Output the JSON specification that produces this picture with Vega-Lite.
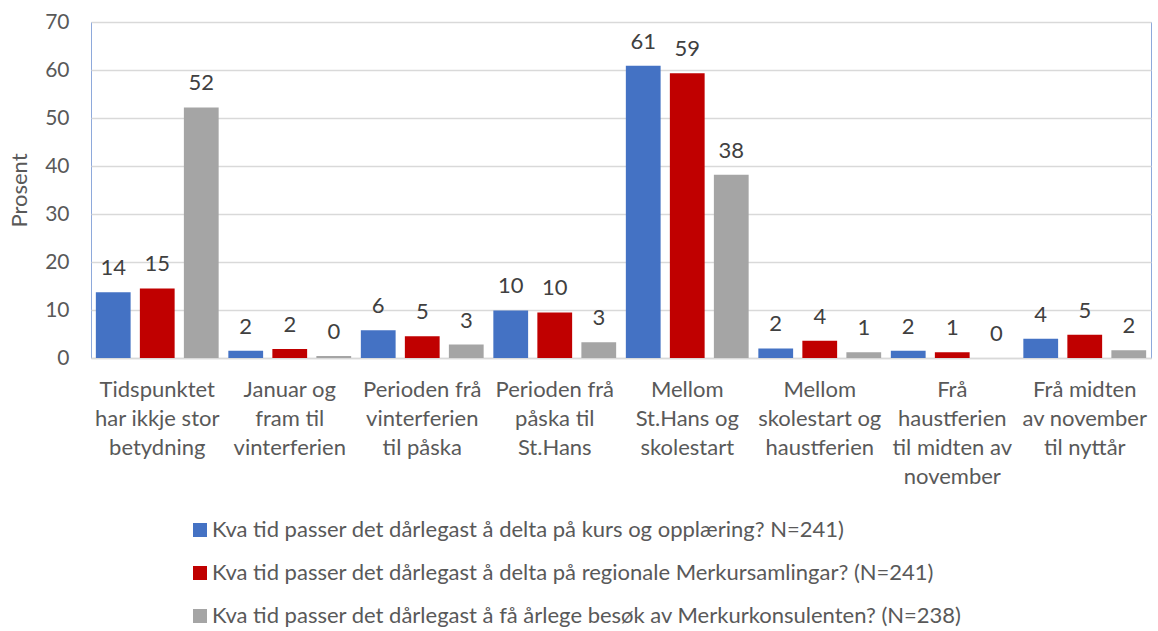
{
  "$schema": "https://vega.github.io/schema/vega-lite/v6.json",
  "width": 1060,
  "height": 336,
  "autosize": {"type": "none"},
  "padding": {"left": 91, "top": 22, "right": 7, "bottom": 273},
  "background": "white",
  "config": {
    "font": "Lato",
    "view": {"stroke": "#8EA9DB", "strokeWidth": 1}
  },
  "data": {
    "values": [
      {"cat": "Tidspunktet\nhar ikkje stor\nbetydning", "series": "Kva tid passer det dårlegast å delta på kurs og opplæring? N=241)", "value": 13.7},
      {"cat": "Tidspunktet\nhar ikkje stor\nbetydning", "series": "Kva tid passer det dårlegast å delta på regionale Merkursamlingar? (N=241)", "value": 14.5},
      {"cat": "Tidspunktet\nhar ikkje stor\nbetydning", "series": "Kva tid passer det dårlegast å få årlege besøk av Merkurkonsulenten? (N=238)", "value": 52.2},
      {"cat": "Januar og\nfram til\nvinterferien", "series": "Kva tid passer det dårlegast å delta på kurs og opplæring? N=241)", "value": 1.5},
      {"cat": "Januar og\nfram til\nvinterferien", "series": "Kva tid passer det dårlegast å delta på regionale Merkursamlingar? (N=241)", "value": 1.9},
      {"cat": "Januar og\nfram til\nvinterferien", "series": "Kva tid passer det dårlegast å få årlege besøk av Merkurkonsulenten? (N=238)", "value": 0.4},
      {"cat": "Perioden frå\nvinterferien\ntil påska", "series": "Kva tid passer det dårlegast å delta på kurs og opplæring? N=241)", "value": 5.8},
      {"cat": "Perioden frå\nvinterferien\ntil påska", "series": "Kva tid passer det dårlegast å delta på regionale Merkursamlingar? (N=241)", "value": 4.55},
      {"cat": "Perioden frå\nvinterferien\ntil påska", "series": "Kva tid passer det dårlegast å få årlege besøk av Merkurkonsulenten? (N=238)", "value": 2.8},
      {"cat": "Perioden frå\npåska til\nSt.Hans", "series": "Kva tid passer det dårlegast å delta på kurs og opplæring? N=241)", "value": 9.9},
      {"cat": "Perioden frå\npåska til\nSt.Hans", "series": "Kva tid passer det dårlegast å delta på regionale Merkursamlingar? (N=241)", "value": 9.5},
      {"cat": "Perioden frå\npåska til\nSt.Hans", "series": "Kva tid passer det dårlegast å få årlege besøk av Merkurkonsulenten? (N=238)", "value": 3.3},
      {"cat": "Mellom\nSt.Hans og\nskolestart", "series": "Kva tid passer det dårlegast å delta på kurs og opplæring? N=241)", "value": 60.9},
      {"cat": "Mellom\nSt.Hans og\nskolestart", "series": "Kva tid passer det dårlegast å delta på regionale Merkursamlingar? (N=241)", "value": 59.3},
      {"cat": "Mellom\nSt.Hans og\nskolestart", "series": "Kva tid passer det dårlegast å få årlege besøk av Merkurkonsulenten? (N=238)", "value": 38.2},
      {"cat": "Mellom\nskolestart og\nhaustferien", "series": "Kva tid passer det dårlegast å delta på kurs og opplæring? N=241)", "value": 2.0},
      {"cat": "Mellom\nskolestart og\nhaustferien", "series": "Kva tid passer det dårlegast å delta på regionale Merkursamlingar? (N=241)", "value": 3.6},
      {"cat": "Mellom\nskolestart og\nhaustferien", "series": "Kva tid passer det dårlegast å få årlege besøk av Merkurkonsulenten? (N=238)", "value": 1.2},
      {"cat": "Frå\nhaustferien\ntil midten av\nnovember", "series": "Kva tid passer det dårlegast å delta på kurs og opplæring? N=241)", "value": 1.5},
      {"cat": "Frå\nhaustferien\ntil midten av\nnovember", "series": "Kva tid passer det dårlegast å delta på regionale Merkursamlingar? (N=241)", "value": 1.2},
      {"cat": "Frå\nhaustferien\ntil midten av\nnovember", "series": "Kva tid passer det dårlegast å få årlege besøk av Merkurkonsulenten? (N=238)", "value": 0},
      {"cat": "Frå midten\nav november\ntil nyttår", "series": "Kva tid passer det dårlegast å delta på kurs og opplæring? N=241)", "value": 4.0},
      {"cat": "Frå midten\nav november\ntil nyttår", "series": "Kva tid passer det dårlegast å delta på regionale Merkursamlingar? (N=241)", "value": 4.85},
      {"cat": "Frå midten\nav november\ntil nyttår", "series": "Kva tid passer det dårlegast å få årlege besøk av Merkurkonsulenten? (N=238)", "value": 1.6}
    ]
  },
  "encoding": {
    "x": {
      "field": "cat",
      "type": "nominal",
      "sort": null,
      "scale": {"paddingInner": 0, "paddingOuter": 0},
      "axis": {
        "title": null,
        "labelAngle": 0,
        "labelExpr": "split(datum.label, '\\n')",
        "labelFont": "Lato",
        "labelFontSize": 22,
        "labelColor": "#595959",
        "labelLineHeight": 29,
        "labelPadding": 21,
        "labelLimit": 0,
        "ticks": false,
        "grid": false,
        "domainColor": "#D9D9D9",
        "domainWidth": 1.5
      }
    },
    "xOffset": {
      "field": "series",
      "type": "nominal",
      "sort": [
        "Kva tid passer det dårlegast å delta på kurs og opplæring? N=241)",
        "Kva tid passer det dårlegast å delta på regionale Merkursamlingar? (N=241)",
        "Kva tid passer det dårlegast å få årlege besøk av Merkurkonsulenten? (N=238)"
      ],
      "scale": {"paddingInner": 0.21, "paddingOuter": 0.11}
    },
    "y": {
      "field": "value",
      "type": "quantitative",
      "scale": {"domain": [0, 70], "nice": false},
      "axis": {
        "title": "Prosent",
        "titleFont": "Lato",
        "titleFontSize": 22,
        "titleFontWeight": "normal",
        "titleColor": "#595959",
        "titlePadding": 13,
        "values": [0, 10, 20, 30, 40, 50, 60, 70],
        "ticks": false,
        "domain": false,
        "labelFont": "Lato",
        "labelFontSize": 21,
        "labelColor": "#595959",
        "labelPadding": 22,
        "gridColor": "#D9D9D9",
        "gridWidth": 1.3
      }
    }
  },
  "layer": [
    {
      "mark": {"type": "bar"},
      "encoding": {
        "color": {
          "field": "series",
          "type": "nominal",
          "scale": {
            "domain": [
              "Kva tid passer det dårlegast å delta på kurs og opplæring? N=241)",
              "Kva tid passer det dårlegast å delta på regionale Merkursamlingar? (N=241)",
              "Kva tid passer det dårlegast å få årlege besøk av Merkurkonsulenten? (N=238)"
            ],
            "range": ["#4472C4", "#C00000", "#A5A5A5"]
          },
          "legend": {
            "orient": "none",
            "legendX": 98,
            "legendY": 497,
            "direction": "vertical",
            "title": null,
            "padding": 0,
            "symbolType": "square",
            "symbolSize": 196,
            "symbolStrokeWidth": 0,
            "labelFont": "Lato",
            "labelFontSize": 22,
            "labelColor": "#595959",
            "labelOffset": 1,
            "labelLimit": 0,
            "rowPadding": 21
          }
        }
      }
    },
    {
      "mark": {"type": "text", "dy": -17, "baseline": "alphabetic", "fontSize": 22, "font": "Lato", "color": "#404040"},
      "encoding": {
        "text": {"field": "value", "type": "quantitative", "format": ".0f"}
      }
    }
  ]
}
